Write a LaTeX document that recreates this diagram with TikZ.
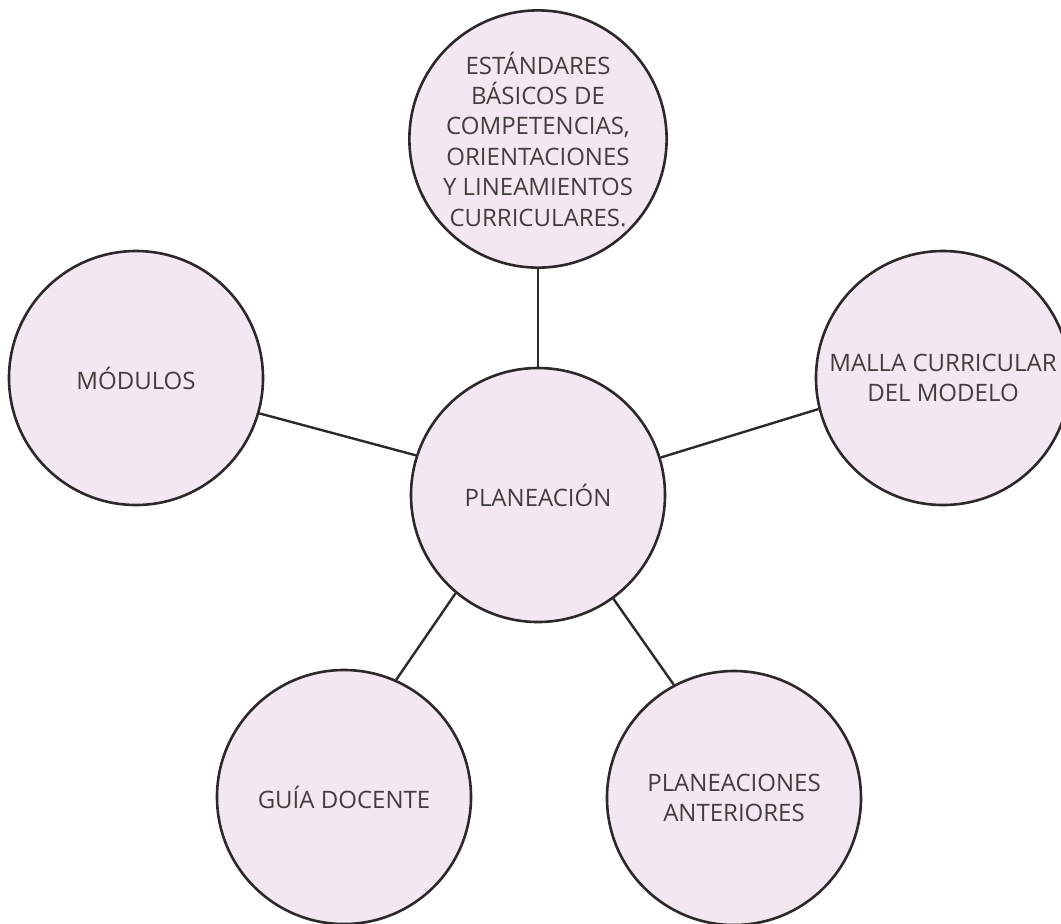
\documentclass[tikz,border=0pt]{standalone}
\usepackage{fontspec}
\setmainfont{Open Sans}
\usepackage{tikz}
\definecolor{rosa}{RGB}{243,231,242}
\definecolor{tinta}{RGB}{45,40,42}
\tikzset{tema/.style={circle, draw=tinta, fill=rosa, line width=1.3pt,
    minimum size=127pt, inner sep=0pt, align=center, text=tinta!90,
    font=\fontsize{12}{15.2}\selectfont},
  enlace/.style={draw=tinta, line width=1.2pt}}

\begin{document}
\begin{tikzpicture}[x=0.5pt, y=-0.5pt]
			%%%%% START %%%%%
			\useasboundingbox (0, 0) rectangle (1061, 923);
			
			\node[tema] (plan) at (538, 495) {PLANEACIÓN};
			\node[tema] (estandares) at (538, 139) {ESTÁNDARES\\BÁSICOS DE\\COMPETENCIAS,\\ORIENTACIONES\\Y LINEAMIENTOS\\CURRICULARES.};
			\node[tema] (modulos) at (136, 378) {MÓDULOS};
			\node[tema] (malla) at (943, 378) {MALLA CURRICULAR\\DEL MODELO};
			\node[tema] (guia) at (344, 797) {GUÍA DOCENTE};
			\node[tema] (anteriores) at (734, 798) {PLANEACIONES\\ANTERIORES};
			
			\draw[enlace] (plan.north) -- (estandares.south);
			\draw[enlace] (plan.162.6) -- (modulos.344.1);
			\draw[enlace] (plan.17.4) -- (malla.194.4);
			\draw[enlace] (plan.230.4) -- (guia.66.5);
			\draw[enlace] (plan.306.3) -- (anteriores.118.2);
			
			%%%%% END %%%%%
\end{tikzpicture}
\end{document}
